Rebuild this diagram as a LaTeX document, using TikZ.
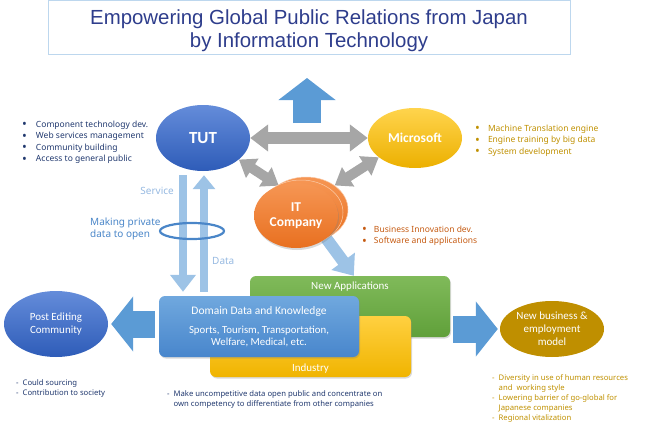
\documentclass[tikz,border=0pt]{standalone}
\usepackage{fontspec}
\setmainfont{Carlito}
\newfontfamily\titlefont{Liberation Sans}
\newfontfamily\notefont{Noto Sans}
\usepackage{tikz}
\usetikzlibrary{shapes,positioning,arrows.meta,shadows,backgrounds}

\definecolor{titleblue}{RGB}{46,61,140}
\definecolor{titleframe}{RGB}{189,215,238}
\definecolor{tuttop}{RGB}{100,140,218}
\definecolor{tutbot}{RGB}{46,92,184}
\definecolor{mstop}{RGB}{255,212,77}
\definecolor{msbot}{RGB}{236,176,0}
\definecolor{ittop}{RGB}{246,150,84}
\definecolor{itbot}{RGB}{232,112,32}
\definecolor{domtop}{RGB}{112,168,222}
\definecolor{dombot}{RGB}{72,134,204}
\definecolor{apptop}{RGB}{128,186,90}
\definecolor{appbot}{RGB}{96,160,58}
\definecolor{indtop}{RGB}{255,208,64}
\definecolor{indbot}{RGB}{240,180,0}
\definecolor{nbgold}{RGB}{191,143,0}
\definecolor{arrgray}{RGB}{166,166,166}
\definecolor{arrpale}{RGB}{157,195,230}
\definecolor{arrblue}{RGB}{91,155,213}
\definecolor{ringblue}{RGB}{74,134,200}
\definecolor{navytext}{RGB}{32,56,110}
\definecolor{goldtext}{RGB}{191,144,0}
\definecolor{orangetext}{RGB}{197,90,17}
\definecolor{paletext}{RGB}{150,185,225}

\newcommand\bulletsize{\notefont\fontsize{8.5}{11.6}\selectfont}
\newcommand\dashsize{\notefont\fontsize{7.7}{10.2}\selectfont}
\newcommand\notebullet{\raisebox{-1.5pt}{\scalebox{1.5}{\textbullet}}}

\tikzset{
  blob/.style={ellipse, inner sep=0pt, text=white, align=center},
  panel/.style={rectangle, rounded corners=6pt, inner sep=0pt, minimum width=200pt, minimum height=61pt,
                drop shadow={opacity=0.3, shadow xshift=1pt, shadow yshift=-1.5pt}},
  paneltext/.style={text=white, inner sep=0pt, font=\fontsize{11}{13}\selectfont},
  notes/.style={inner sep=0pt, anchor=base west},
  sidetext/.style={inner sep=0pt, font=\notefont\fontsize{10}{12}\selectfont},
  grayarr/.style={draw=arrgray, line width=10pt,
                  arrows={Triangle[length=16pt,width=22pt]-Triangle[length=16pt,width=22pt]}},
  palearr/.style={draw=arrpale, line width=8.5pt},
  bigarr/.style={draw=arrblue, line width=27pt, arrows={-Triangle[length=22pt,width=54pt]}}
}

\begin{document}
\begin{tikzpicture}[x=1pt,y=-1pt]
\useasboundingbox (0,0) rectangle (650,428);

\node[draw=titleframe, line width=1pt, minimum width=522pt, minimum height=54pt, inner sep=0pt] (title) at (309,28) {};
\node[anchor=base, inner sep=0pt, text=titleblue, font=\titlefont\fontsize{20.4}{22.7}\selectfont] (titletext) at (309,24.5)
      {\begin{tabular}[t]{@{}c@{}}Empowering Global Public Relations from Japan\\ by Information Technology\end{tabular}};

\node[blob, top color=tuttop, bottom color=tutbot, minimum width=94pt, minimum height=66pt,
      font=\bfseries\fontsize{17}{20}\selectfont] (tut) at (203,138) {TUT};
\node[blob, top color=mstop, bottom color=msbot, minimum width=94pt, minimum height=60pt,
      font=\bfseries\fontsize{13.5}{16}\selectfont] (ms) at (415,138) {Microsoft};

\node[blob, top color=ittop, bottom color=itbot, draw=ittop!50!white, line width=0.5pt,
      minimum width=84pt, minimum height=65pt] (it3) at (306,209.5) {};
\node[blob, top color=ittop, bottom color=itbot, draw=ittop!50!white, line width=0.5pt,
      minimum width=84pt, minimum height=65pt] (it2) at (301,212.5) {};
\node[blob, top color=ittop, bottom color=itbot, minimum width=84pt, minimum height=65pt,
      drop shadow={opacity=0.3, shadow xshift=1pt, shadow yshift=-2pt},
      font=\bfseries\fontsize{13.5}{15}\selectfont] (it) at (296,215.5) {IT\\Company};

\node[blob, top color=tuttop, bottom color=tutbot, minimum width=104pt, minimum height=66pt,
      font=\fontsize{11}{12.5}\selectfont] (pe) at (56,324) {Post Editing\\Community};
\node[blob, fill=nbgold, minimum width=104pt, minimum height=56pt,
      font=\fontsize{11}{13}\selectfont] (nb) at (552,329) {New business \&\\employment\\model};

\node[panel, top color=apptop, bottom color=appbot] (app) at (350,306.5) {};
\node[paneltext, below=6pt of app.north] (apptext) {New Applications};
\node[panel, top color=indtop, bottom color=indbot, minimum width=201pt] (ind) at (310.5,346.5) {};
\node[paneltext, above=4pt of ind.south] (indtext) {Industry};
\node[panel, top color=domtop, bottom color=dombot, text=white, align=center,
      font=\fontsize{10.8}{12.5}\selectfont] (dom) at (259,326.5)
      {{\fontsize{11.5}{12.5}\selectfont Domain Data and Knowledge}\\[6.5pt]Sports, Tourism, Transportation,\\Welfare, Medical, etc.};

\coordinate (svcx) at (183,0);
\coordinate (datx) at (204,0);
\coordinate (uptip) at (307,78);
\coordinate (upbase) at (307,123);

\begin{scope}[on background layer]
\draw[grayarr, line width=12pt, arrows={Triangle[length=18pt,width=26pt]-Triangle[length=18pt,width=26pt]}] (tut.east) -- (ms.west);
\draw[grayarr] (tut.-31) -- (it.120);
\draw[grayarr] (ms.208) -- (it3.40);
\draw[draw=arrblue, line width=28pt, arrows={-Triangle[length=22pt,width=56pt]}] (upbase) -- (uptip);
\draw[palearr, arrows={-Triangle[length=17pt,width=25pt]}, shorten <=4pt, shorten >=4pt] (tut.south -| svcx) -- (dom.north -| svcx);
\draw[palearr, arrows={-Triangle[length=14pt,width=22pt]}, shorten <=4pt, shorten >=4pt] (dom.north -| datx) -- (tut.south -| datx);
\draw[palearr, line width=12pt, arrows={-Triangle[length=18pt,width=28pt]}] (it3.-55) -- ([xshift=104pt]app.north west);
\draw[bigarr, shorten <=4pt, shorten >=3pt] (dom.west |- pe.east) -- (pe.east);
\draw[bigarr, shorten <=3pt, shorten >=2pt] (app.east |- nb.west) -- (nb.west);
\end{scope}

\node[draw=ringblue, line width=2.2pt, ellipse, minimum width=64pt, minimum height=16pt, inner sep=0pt] (ring) at (192,231) {};

\node[sidetext, text=paletext, anchor=east] (svctext) at (174,191) {Service};
\node[sidetext, text=ringblue, anchor=west, align=left] (opentext) at (90,229) {Making private\\data to open};
\node[sidetext, text=paletext, anchor=west] (datatext) at (212,261) {Data};

\node[notes, text=navytext, font=\bulletsize] (tutnotes) at (22,127)
      {\begin{tabular}[t]{@{}l@{\hspace{9pt}}l@{}}
       \notebullet & Component technology dev.\\
       \notebullet & Web services management\\
       \notebullet & Community building\\
       \notebullet & Access to general public
       \end{tabular}};
\node[notes, text=goldtext, font=\bulletsize] (msnotes) at (475,131)
      {\begin{tabular}[t]{@{}l@{\hspace{8pt}}l@{}}
       \notebullet & Machine Translation engine\\
       \notebullet & Engine training by big data\\
       \notebullet & System development
       \end{tabular}};
\node[notes, text=orangetext, font=\bulletsize] (itnotes) at (362,232)
      {\begin{tabular}[t]{@{}l@{\hspace{7pt}}l@{}}
       \notebullet & Business Innovation dev.\\
       \notebullet & Software and applications
       \end{tabular}};
\node[notes, text=navytext, font=\dashsize] (penotes) at (16,385)
      {\begin{tabular}[t]{@{}l@{\hspace{4pt}}l@{}}
       - & Could sourcing\\
       - & Contribution to society
       \end{tabular}};
\node[notes, text=navytext, font=\dashsize] (domnotes) at (167,396)
      {\begin{tabular}[t]{@{}l@{\hspace{4pt}}l@{}}
       - & Make uncompetitive data open public and concentrate on\\
         & own competency to differentiate from other companies
       \end{tabular}};
\node[notes, text=goldtext, font=\dashsize] (nbnotes) at (492,380)
      {\begin{tabular}[t]{@{}l@{\hspace{4pt}}l@{}}
       - & Diversity in use of human resources\\
         & and\ \ working style\\
       - & Lowering barrier of go-global for\\
         & Japanese companies\\
       - & Regional vitalization
       \end{tabular}};

\end{tikzpicture}
\end{document}
